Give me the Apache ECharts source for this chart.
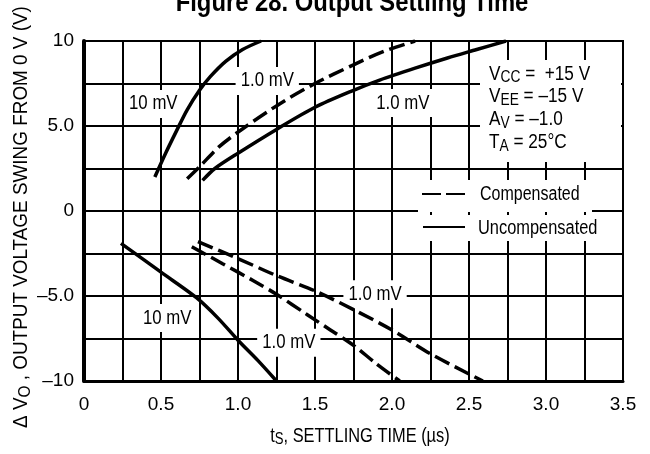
<!DOCTYPE html>
<html>
<head>
<meta charset="utf-8">
<style>
  html, body { margin: 0; padding: 0; background: #fff; }
  #chart { width: 650px; height: 454px; }
</style>
<script src="https://cdn.jsdelivr.net/npm/echarts@6/dist/echarts.min.js"></script>
</head>
<body>
<div id="chart"></div>
<script>
// Settling time (µs) versus output voltage swing (V)
const xTickLabels = ['0', '0.5', '1.0', '1.5', '2.0', '2.5', '3.0', '3.5'];
const yTickValues = [-10, -5, 0, 5, 10];
const yTickLabels = ['\u201310', '\u20135.0', '0', '5.0', '10'];

// Positive swing
const uncomp10Pos = [[0.46, 2.0], [0.53, 3.4], [0.6, 4.7], [0.67, 5.95], [0.75, 7.1], [0.82, 7.9], [0.92, 8.8], [1.03, 9.5], [1.15, 10]];
const comp1Pos = [[0.67, 1.9], [0.75, 2.6], [0.88, 3.8], [1.04, 4.9], [1.27, 6.3], [1.5, 7.5], [1.75, 8.6], [1.95, 9.4], [2.15, 10]];
const uncomp1Pos = [[0.77, 1.8], [0.85, 2.5], [1.0, 3.4], [1.25, 4.8], [1.5, 6.1], [1.75, 7.1], [1.92, 7.7], [2.15, 8.4], [2.36, 9.0], [2.55, 9.5], [2.74, 10]];

// Negative swing
const uncomp10Neg = [[0.24, -1.9], [0.5, -3.6], [0.73, -5.1], [0.87, -6.3], [1.0, -7.6], [1.13, -8.8], [1.25, -10]];
const comp1NegA = [[0.74, -1.8], [1.0, -2.8], [1.25, -3.8], [1.5, -4.7], [1.75, -5.8], [2.0, -7.0], [2.25, -8.4], [2.59, -10]];
const comp1NegB = [[0.7, -2.1], [0.9, -3.1], [1.1, -4.1], [1.25, -4.9], [1.45, -6.1], [1.6, -7.0], [1.75, -7.9], [1.9, -9.0], [2.05, -10]];

const FONT = "'Liberation Sans', Arial, sans-serif";
const INK = '#000';
const NARROW = 0.84;

function curve(name, data, dashed) {
  return {
    name: name,
    type: 'line',
    data: data,
    smooth: 0.3,
    showSymbol: false,
    silent: true,
    z: 3,
    lineStyle: {
      color: INK,
      width: 3.5,
      type: dashed ? [16, 6] : 'solid',
      cap: 'butt'
    }
  };
}

function richFor(size) {
  return {
    m: { fontFamily: FONT, fontSize: size, color: INK, verticalAlign: 'top' },
    s: { fontFamily: FONT, fontSize: Math.round(size * 0.8), color: INK, verticalAlign: 'top', padding: [Math.round(size * 0.3), 0, 0, 0] }
  };
}

const chart = echarts.init(document.getElementById('chart'), null, { renderer: 'canvas' });

chart.setOption({
  animation: false,
  backgroundColor: '#fff',
  textStyle: { fontFamily: FONT },
  grid: {
    left: 84, right: 27, top: 41, bottom: 73,
    show: true, borderColor: INK, borderWidth: 2, backgroundColor: 'transparent'
  },
  xAxis: {
    type: 'value', min: 0, max: 3.5, interval: 0.25,
    axisLine: { show: true, onZero: false, lineStyle: { color: INK, width: 3 } },
    axisTick: { show: false },
    splitLine: { show: true, lineStyle: { color: INK, width: 2 } },
    axisLabel: {
      color: INK, fontFamily: FONT, fontSize: 19, margin: 14,
      formatter: function (v) {
        const k = Math.round(v * 2);
        return Math.abs(v * 2 - k) < 1e-6 ? xTickLabels[k] : '';
      }
    }
  },
  yAxis: {
    type: 'value', min: -10, max: 10, interval: 2.5,
    axisLine: { show: true, onZero: false, lineStyle: { color: INK, width: 4 } },
    axisTick: { show: false },
    splitLine: { show: true, lineStyle: { color: INK, width: 2 } },
    axisLabel: {
      color: INK, fontFamily: FONT, fontSize: 19, margin: 10,
      formatter: function (v) {
        const i = yTickValues.indexOf(v);
        return i >= 0 ? yTickLabels[i] : '';
      }
    }
  },
  series: [
    curve('Uncompensated 10 mV +', uncomp10Pos, false),
    curve('Compensated 1.0 mV +', comp1Pos, true),
    curve('Uncompensated 1.0 mV +', uncomp1Pos, false),
    curve('Uncompensated 10 mV \u2212', uncomp10Neg, false),
    curve('Compensated 1.0 mV \u2212 a', comp1NegA, true),
    curve('Compensated 1.0 mV \u2212 b', comp1NegB, true)
  ]
});

// Narrow text helper: the face is squeezed horizontally around its anchor
function text(x, y, str, opt) {
  opt = opt || {};
  return {
    type: 'text', x: x, y: y, z: opt.z || 2, silent: true,
    scaleX: opt.scaleX || NARROW,
    rotation: opt.rotation || 0,
    style: Object.assign({
      text: str, fontFamily: FONT, fontSize: 20, fill: INK,
      align: 'left', verticalAlign: 'middle'
    }, opt.style || {})
  };
}

// Curve tags, anchored in data space, with a white ground that breaks the grid lines
function tag(str, at) {
  const p = chart.convertToPixel({ gridIndex: 0 }, at);
  return text(p[0], p[1], str, {
    z: 1,
    style: { align: 'center', backgroundColor: '#fff', padding: [4, 6] }
  });
}

const conditions = [
  '{m|V}{s|CC}{m| =  +15 V}',
  '{m|V}{s|EE}{m| = \u201315 V}',
  '{m|A}{s|V}{m| = \u20131.0}',
  '{m|T}{s|A}{m| = 25\u00b0C}'
];

const graphics = [
  // title, partly above the top edge
  text(352, 3, 'Figure 28. Output Settling Time', {
    scaleX: 0.85,
    style: { align: 'center', fontSize: 28, fontWeight: 'bold' }
  }),
  tag('10 mV', [0.45, 6.3]),
  tag('1.0 mV', [1.19, 7.65]),
  tag('1.0 mV', [2.07, 6.35]),
  tag('10 mV', [0.54, -6.3]),
  tag('1.0 mV', [1.89, -4.9]),
  tag('1.0 mV', [1.33, -7.75]),
  // conditions block ground
  { type: 'rect', z: 1, silent: true, shape: { x: 480, y: 60, width: 141, height: 102 }, style: { fill: '#fff' } },
  // legend grounds and keys
  { type: 'rect', z: 1, silent: true, shape: { x: 418, y: 180, width: 174, height: 32 }, style: { fill: '#fff' } },
  { type: 'rect', z: 1, silent: true, shape: { x: 418, y: 215, width: 190, height: 26 }, style: { fill: '#fff' } },
  { type: 'line', z: 2, silent: true, shape: { x1: 422, y1: 194, x2: 465, y2: 194 }, style: { stroke: INK, lineWidth: 2, lineDash: [19, 5] } },
  { type: 'line', z: 2, silent: true, shape: { x1: 423, y1: 227, x2: 465, y2: 227 }, style: { stroke: INK, lineWidth: 2 } },
  text(480, 194, 'Compensated', { scaleX: 0.8 }),
  text(478, 228, 'Uncompensated', { scaleX: 0.82 }),
  // axis titles
  text(22, 217, '{m|\u0394 V}{s|O}{m| , OUTPUT VOLTAGE SWING FROM 0 V (V)}', {
    rotation: Math.PI / 2, scaleX: 0.9,
    style: { align: 'center', rich: richFor(21) }
  }),
  text(360, 437, '{m|t}{s|S}{m|, SETTLING TIME (\u00b5s)}', {
    scaleX: 0.82,
    style: { align: 'center', rich: richFor(20) }
  })
];

conditions.forEach(function (line, i) {
  graphics.push(text(489, 75 + i * 22.7, line, { scaleX: 0.86, style: { rich: richFor(20) } }));
});

chart.setOption({ graphic: graphics });
</script>
</body>
</html>
